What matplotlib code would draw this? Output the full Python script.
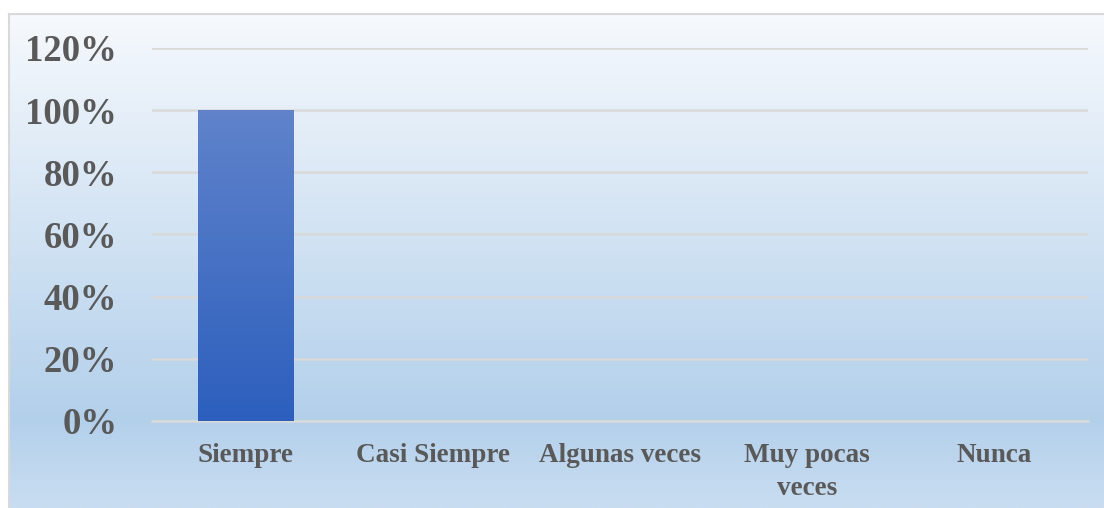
import numpy as np
import matplotlib
matplotlib.use("Agg")
import matplotlib.pyplot as plt
from matplotlib.colors import LinearSegmentedColormap
from matplotlib.ticker import PercentFormatter
import matplotlib.patheffects as pe

# datos del grafico
categorias = ["Siempre", "Casi Siempre", "Algunas veces", "Muy pocas\nveces", "Nunca"]
valores = [1.00, 0.0, 0.0, 0.0, 0.0]
ticks_y = [0.0, 0.2, 0.4, 0.6, 0.8, 1.0, 1.2]

plt.rcParams['font.family'] = ['Liberation Serif', 'DejaVu Serif']
plt.rcParams['font.weight'] = 'bold'

W, H = 1104, 508
fig = plt.figure(figsize=(W / 100, H / 100), dpi=100)

# fondo con degradado
bg = fig.add_axes([9 / W, 0, 1 - 9 / W, (H - 14) / H])
bg_cmap = LinearSegmentedColormap.from_list(
    "bg", [(0, "#f6f9fd"), (0.82, "#b3d0eb"), (1, "#c9ddf1")])
grad = np.linspace(0, 1, 256).reshape(-1, 1)
bg.imshow(grad, aspect="auto", cmap=bg_cmap, extent=[0, 1, 0, 1], origin="upper")
bg.set_xlim(0, 1)
bg.set_ylim(0, 1)
bg.set_xticks([])
bg.set_yticks([])
for s in ["right", "bottom"]:
    bg.spines[s].set_visible(False)
for s in ["top", "left"]:
    bg.spines[s].set_color("#d9d9d9")
    bg.spines[s].set_linewidth(1.5)
bg.set_zorder(-1)

ax = fig.add_axes([152 / W, (H - 421) / H, (1088 - 152) / W, (421 - 48) / H])
ax.patch.set_visible(False)
x = np.arange(len(categorias))
bars = ax.bar(x, valores, width=0.51, color="#4472c4", zorder=3)

bar_cmap = LinearSegmentedColormap.from_list("bar", ["#2c5fbd", "#6083cb"])
for b in bars:
    if b.get_height() <= 0:
        b.set_visible(False)
        continue
    b.set_path_effects([pe.SimplePatchShadow(offset=(0, -1), shadow_rgbFace="#6d7f95", alpha=0.35),
                        pe.Normal()])
    x0, y0 = b.get_x(), b.get_y()
    im = ax.imshow(np.linspace(0, 1, 256).reshape(-1, 1), cmap=bar_cmap, origin="lower",
                   aspect="auto", extent=[x0, x0 + b.get_width(), y0, y0 + b.get_height()],
                   zorder=4)
    im.set_clip_path(b)

ax.set_xlim(-0.5, len(categorias) - 0.5)
ax.set_ylim(0, 1.2)
ax.set_yticks(ticks_y)
ax.yaxis.set_major_formatter(PercentFormatter(1.0, decimals=0))
ax.set_xticks(x)
ax.set_xticklabels(categorias, fontsize=19.5, color="#595959", fontweight="bold",
                   linespacing=1.4)
ax.tick_params(axis="y", labelsize=26.5, colors="#595959", length=0, pad=25)
ax.tick_params(axis="x", length=0, pad=16)
for lbl in ax.get_yticklabels():
    lbl.set_fontweight("bold")
ax.grid(axis="y", color="#d9d9d9", linewidth=1.8, zorder=0)
for s in ["top", "right", "left"]:
    ax.spines[s].set_visible(False)
ax.spines["bottom"].set_color("#d9d9d9")
ax.spines["bottom"].set_linewidth(1.8)

fig.savefig("out.png", dpi=100)
